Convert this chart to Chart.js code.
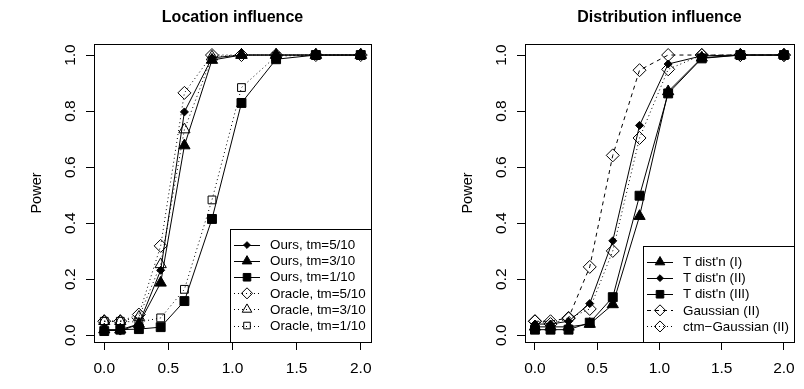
<!DOCTYPE html>
<html><head><meta charset="utf-8">
<script src="https://cdn.jsdelivr.net/npm/chart.js@4/dist/chart.umd.min.js"></script>
<style>
html,body{margin:0;padding:0;background:#fff;}
#wrap{position:relative;width:804px;height:389px;overflow:hidden;}
.pane{position:absolute;top:0;width:402px;height:389px;}
canvas{display:block;}
</style></head><body>
<div id="wrap">
<div class="pane" style="left:0"><canvas id="c1" width="402" height="389"></canvas></div>
<div class="pane" style="left:402px"><canvas id="c2" width="402" height="389"></canvas></div>
</div>
<script>
// ---------- data ----------
const xValues = [0, 0.125, 0.27, 0.44, 0.625, 0.84, 1.07, 1.34, 1.65, 2.0];
const xTicks = [0, 0.5, 1, 1.5, 2];
const yTicks = [0, 0.2, 0.4, 0.6, 0.8, 1.0];

const locTitle = "Location influence";
const locLabels = ["Ours, tm=5/10", "Ours, tm=3/10", "Ours, tm=1/10", "Oracle, tm=5/10", "Oracle, tm=3/10", "Oracle, tm=1/10"];
const oursTm5   = [0.020, 0.015, 0.040, 0.232, 0.797, 0.990, 1.000, 1.000, 1.000, 1.000];
const oursTm3   = [0.020, 0.020, 0.040, 0.187, 0.677, 0.982, 1.000, 1.000, 1.000, 1.000];
const oursTm1   = [0.015, 0.020, 0.022, 0.029, 0.122, 0.415, 0.829, 0.985, 1.000, 1.000];
const oracleTm5 = [0.050, 0.050, 0.074, 0.319, 0.865, 1.000, 1.000, 1.000, 1.000, 1.000];
const oracleTm3 = [0.050, 0.050, 0.065, 0.253, 0.734, 0.994, 1.000, 1.000, 1.000, 1.000];
const oracleTm1 = [0.050, 0.050, 0.047, 0.062, 0.164, 0.483, 0.884, 0.996, 1.000, 1.000];

const distTitle = "Distribution influence";
const distLabels = ["T dist'n (I)", "T dist'n (II)", "T dist'n (III)", "Gaussian (II)", "ctm\u2212Gaussian (II)"];
const tDistI    = [0.030, 0.030, 0.030, 0.040, 0.110, 0.425, 0.870, 0.990, 1.000, 1.000];
const tDistII   = [0.040, 0.040, 0.050, 0.113, 0.337, 0.749, 0.968, 0.997, 1.000, 1.000];
const tDistIII  = [0.020, 0.020, 0.020, 0.045, 0.136, 0.498, 0.863, 0.988, 1.000, 1.000];
const gaussII   = [0.050, 0.050, 0.062, 0.244, 0.642, 0.946, 1.000, 1.000, 1.000, 1.000];
const ctmGaussII= [0.050, 0.040, 0.060, 0.094, 0.301, 0.704, 0.949, 1.000, 1.000, 1.000];

// ---------- styles ----------
const FONT = '"Liberation Sans", Arial, Helvetica, sans-serif';
const FS = 13.4;       // legend text
const FS_AXIS = 15.5;  // tick labels
const FS_LAB = 14.5;   // axis title
const DASH = { solid: [], dotted: [1, 3], dashed: [4, 4] };
const MARK = {
  smallDiamondFilled: { pointStyle: 'rectRot', radius: 4, fill: '#000' },
  triangleFilled:     { pointStyle: 'triangle', radius: 6.5, fill: '#000' },
  squareFilled:       { pointStyle: 'rect', radius: 6.3, fill: '#000' },
  diamondOpen:        { pointStyle: 'rectRot', radius: 6.5, fill: 'rgba(0,0,0,0)' },
  triangleOpen:       { pointStyle: 'triangle', radius: 6.5, fill: 'rgba(0,0,0,0)' },
  squareOpen:         { pointStyle: 'rect', radius: 5.5, fill: 'rgba(0,0,0,0)' }
};

function series(label, values, mark, dash) {
  const m = MARK[mark];
  return {
    label: label,
    data: xValues.map((x, i) => ({ x: x, y: values[i] })),
    borderColor: '#000',
    borderWidth: 1,
    borderDash: DASH[dash],
    tension: 0,
    fill: false,
    pointStyle: m.pointStyle,
    pointRadius: m.radius,
    pointHoverRadius: m.radius,
    pointBackgroundColor: m.fill,
    pointBorderColor: '#000',
    pointBorderWidth: 1,
    clip: false
  };
}

// plugin: box, title, y-label, legend in R style
const rDecor = {
  id: 'rDecor',
  afterDraw(chart, args, o) {
    const ctx = chart.ctx, a = chart.chartArea;
    ctx.save();
    ctx.strokeStyle = '#000'; ctx.lineWidth = 1; ctx.setLineDash([]);
    ctx.strokeRect(Math.round(a.left) + 0.5, Math.round(a.top) + 0.5,
                   Math.round(a.right - a.left), Math.round(a.bottom - a.top));
    ctx.fillStyle = '#000';
    ctx.font = 'bold ' + o.titleSize + 'px ' + FONT;
    ctx.textAlign = 'center'; ctx.textBaseline = 'middle';
    ctx.fillText(o.title, (a.left + a.right) / 2, o.titleY);
    ctx.save();
    ctx.font = FS_LAB + 'px ' + FONT;
    ctx.translate(a.left - o.ylabGap, (a.top + a.bottom) / 2);
    ctx.rotate(-Math.PI / 2);
    ctx.fillText(o.ylab, 0, 0);
    ctx.restore();
    // legend (bottom right)
    const ds = chart.data.datasets;
    ctx.font = FS + 'px ' + FONT;
    let maxW = 0;
    ds.forEach(d => { maxW = Math.max(maxW, ctx.measureText(d.label).width); });
    const lh = o.legLineH;
    const w = o.legTextOff + maxW + o.legRightPad;
    const h = ds.length * lh + 2 * o.legPad;
    const right = Math.round(a.right), bottom = Math.round(a.bottom);
    const left = Math.round(right - w), top = Math.round(bottom - h);
    ctx.fillStyle = '#fff';
    ctx.fillRect(left, top, right - left, bottom - top);
    ctx.strokeStyle = '#000';
    ctx.strokeRect(left + 0.5, top + 0.5, right - left, bottom - top);
    ds.forEach((d, i) => {
      const cy = top + o.legPad + lh * (i + 0.5);
      ctx.save();
      ctx.strokeStyle = '#000'; ctx.lineWidth = 1;
      ctx.setLineDash(d.borderDash);
      ctx.beginPath();
      ctx.moveTo(left + o.legLineX0, Math.round(cy) + 0.5);
      ctx.lineTo(left + o.legLineX1, Math.round(cy) + 0.5);
      ctx.stroke();
      ctx.setLineDash([]);
      ctx.fillStyle = d.pointBackgroundColor;
      ctx.strokeStyle = '#000';
      Chart.helpers.drawPoint(ctx, { pointStyle: d.pointStyle, radius: d.pointRadius * 0.85, rotation: 0, borderWidth: 1 },
                              left + (o.legLineX0 + o.legLineX1) / 2, cy);
      ctx.restore();
      ctx.fillStyle = '#000';
      ctx.textAlign = 'left'; ctx.textBaseline = 'middle';
      ctx.fillText(d.label, left + o.legTextOff, cy + 0.5);
    });
    ctx.restore();
  }
};

function makeChart(id, datasets, title, areaLeft, areaRight) {
  return new Chart(document.getElementById(id), {
    type: 'line',
    data: { datasets: datasets },
    plugins: [rDecor],
    options: {
      responsive: false, animation: false, devicePixelRatio: 1,
      layout: { padding: { left: 0, top: 44, right: 402 - areaRight, bottom: 0 } },
      plugins: {
        legend: { display: false }, tooltip: { enabled: false }, title: { display: false },
        rDecor: { title: title, titleSize: 16, titleY: 18, ylab: 'Power', ylabGap: 57,
                  legLineH: 16.1, legPad: 8, legTextOff: 40, legRightPad: 5, legLineX0: 4, legLineX1: 30 }
      },
      scales: {
        x: {
          type: 'linear', min: -0.08, max: 2.08,
          afterBuildTicks: s => { s.ticks = xTicks.map(v => ({ value: v })); },
          afterFit: s => { s.height = 47; },
          ticks: { callback: v => Number(v).toFixed(1), font: { family: FONT, size: FS_AXIS }, color: '#000',
                   padding: 9, maxRotation: 0, minRotation: 0, autoSkip: false },
          grid: { display: true, drawOnChartArea: false, drawTicks: true, tickLength: 8, color: '#000', tickColor: '#000', lineWidth: 1 },
          border: { display: false }
        },
        y: {
          type: 'linear', min: -0.024, max: 1.0394,
          afterBuildTicks: s => { s.ticks = yTicks.map(v => ({ value: v })); },
          afterFit: s => { s.width = areaLeft; },
          ticks: { callback: v => Number(v).toFixed(1), font: { family: FONT, size: FS_AXIS }, color: '#000',
                   padding: 5, minRotation: 90, maxRotation: 90, crossAlign: 'center', autoSkip: false },
          grid: { display: true, drawOnChartArea: false, drawTicks: true, tickLength: 8, color: '#000', tickColor: '#000', lineWidth: 1 },
          border: { display: false }
        }
      }
    }
  });
}

makeChart('c1', [
  series(locLabels[0], oursTm5, 'smallDiamondFilled', 'solid'),
  series(locLabels[1], oursTm3, 'triangleFilled', 'solid'),
  series(locLabels[2], oursTm1, 'squareFilled', 'solid'),
  series(locLabels[3], oracleTm5, 'diamondOpen', 'dotted'),
  series(locLabels[4], oracleTm3, 'triangleOpen', 'dotted'),
  series(locLabels[5], oracleTm1, 'squareOpen', 'dotted')
], locTitle, 94, 371);

makeChart('c2', [
  series(distLabels[0], tDistI, 'triangleFilled', 'solid'),
  series(distLabels[1], tDistII, 'smallDiamondFilled', 'solid'),
  series(distLabels[2], tDistIII, 'squareFilled', 'solid'),
  series(distLabels[3], gaussII, 'diamondOpen', 'dashed'),
  series(distLabels[4], ctmGaussII, 'diamondOpen', 'dotted')
], distTitle, 123, 401);
</script>
</body></html>
